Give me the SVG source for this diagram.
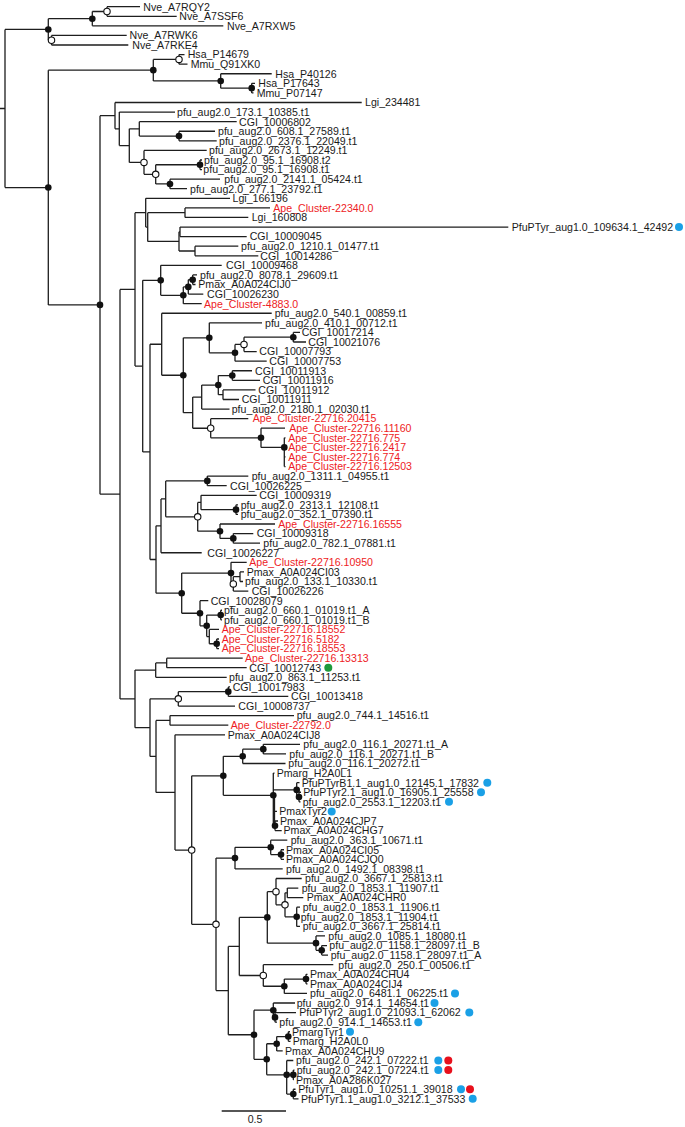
<svg xmlns="http://www.w3.org/2000/svg" width="685" height="1127" viewBox="0 0 685 1127">
<style>
.b{fill:none;stroke:#1e1e1e;stroke-width:1.3}
.f{fill:#111}
.o{fill:#fff;stroke:#111;stroke-width:1.1}
text{font-family:"Liberation Sans",Arial,sans-serif;font-size:10.6px;fill:#1a1a1a}
text.r{fill:#ee1c25}
.bl{fill:#1aa0e6}
.rd{fill:#e8101c}
.gr{fill:#1f9a3c}
</style>
<rect width="685" height="1127" fill="#fff"/>
<g id="connectors" class="b">
<path d="M0 108.5H5 M5 29.45V187.54 M5 29.45H48.3 M5 187.54H48.3"/>
<path d="M48.3 18.68V40.23 M48.3 18.68H92.3 M48.3 40.23H51.5"/>
<path d="M92.3 11.49V25.86 M92.3 11.49H107 M92.3 25.86H223.3"/>
<path d="M107 6.7V16.28 M107 6.7H140 M107 16.28H176.7"/>
<path d="M51.5 35.44V45.02 M51.5 35.44H126.7 M51.5 45.02H128.3"/>
<path d="M48.3 70.17V304.9 M48.3 70.17H153.3 M48.3 304.9H100"/>
<path d="M153.3 59.39V80.95 M153.3 59.39H179 M153.3 80.95H220.7"/>
<path d="M179 54.6V64.18 M179 54.6H184.5 M179 64.18H187.5"/>
<path d="M220.7 73.76V88.13 M220.7 73.76H271.7 M220.7 88.13H251.7"/>
<path d="M251.7 83.34V92.92 M251.7 83.34H255 M251.7 92.92H253.5"/>
<path d="M100 115.67V494.13 M100 115.67H115 M100 494.13H120"/>
<path d="M115 102.5V128.84 M115 102.5H361.7 M115 128.84H119.3"/>
<path d="M119.3 112.08V145.6 M119.3 112.08H175 M119.3 145.6H129.3"/>
<path d="M129.3 128.85V162.38 M129.3 128.85H139.3 M129.3 162.38H144"/>
<path d="M139.3 121.66V136.03 M139.3 121.66H236.7 M139.3 136.03H179"/>
<path d="M179 131.24V140.82 M179 131.24H215 M179 140.82H216.7"/>
<path d="M144 150.4V174.35 M144 150.4H206.7 M144 174.35H155.7"/>
<path d="M155.7 164.77V183.93 M155.7 164.77H200 M155.7 183.93H170"/>
<path d="M200 159.98V169.56 M200 159.98H202 M200 169.56H202"/>
<path d="M170 179.14V188.72 M170 179.14H220 M170 188.72H187"/>
<path d="M120 289.39V698.88 M120 289.39H135 M120 698.88H135"/>
<path d="M135 212.67V366.1 M135 212.67H145.7 M135 366.1H142.7"/>
<path d="M145.7 198.3V227.04 M145.7 198.3H230 M145.7 227.04H147.7"/>
<path d="M147.7 212.67V241.41 M147.7 212.67H185 M147.7 241.41H179"/>
<path d="M185 207.88V217.46 M185 207.88H270 M185 217.46H248.3"/>
<path d="M179 231.83V250.99 M179 231.83H180 M179 250.99H195"/>
<path d="M180 227.04V236.62 M180 227.04H508.3 M180 236.62H246.7"/>
<path d="M195 246.2V255.78 M195 246.2H238.3 M195 255.78H258.3"/>
<path d="M142.7 280.33V451.88 M142.7 280.33H160.7 M142.7 451.88H150"/>
<path d="M160.7 265.36V295.3 M160.7 265.36H221.7 M160.7 295.3H183.3"/>
<path d="M183.3 286.9V303.68 M183.3 286.9H188.3 M183.3 303.68H201.7"/>
<path d="M188.3 279.73V294.1 M188.3 279.73H192.7 M188.3 294.1H203.3"/>
<path d="M192.7 274.94V284.52 M192.7 274.94H197 M192.7 284.52H195.5"/>
<path d="M150 344.25V559.5 M150 344.25H161.7 M150 559.5H156"/>
<path d="M161.7 313.26V375.24 M161.7 313.26H271.7 M161.7 375.24H183.3"/>
<path d="M183.3 337.81V412.66 M183.3 337.81H209.3 M183.3 412.66H192.7"/>
<path d="M209.3 322.84V352.78 M209.3 322.84H262 M209.3 352.78H235"/>
<path d="M235 344.4V361.16 M235 344.4H244 M235 361.16H266.7"/>
<path d="M244 337.21V351.58 M244 337.21H293.3 M244 351.58H256.7"/>
<path d="M293.3 332.42V342 M293.3 332.42H300 M293.3 342H306"/>
<path d="M192.7 397.09V428.23 M192.7 397.09H201.7 M192.7 428.23H210.7"/>
<path d="M201.7 385.11V409.06 M201.7 385.11H218.3 M201.7 409.06H229.5"/>
<path d="M218.3 375.53V394.69 M218.3 375.53H232.3 M218.3 394.69H223"/>
<path d="M232.3 370.74V380.32 M232.3 370.74H252 M232.3 380.32H260"/>
<path d="M223 389.9V399.48 M223 389.9H255.5 M223 399.48H239"/>
<path d="M210.7 418.64V437.81 M210.7 418.64H248.3 M210.7 437.81H261"/>
<path d="M261 428.22V447.4 M261 428.22H285 M261 447.4H284.3"/>
<path d="M284.3 437.8V466.54 M284.3 437.8H285.5 M284.3 447.38H285.5 M284.3 456.96H285.5 M284.3 466.54H285.5"/>
<path d="M156 525.82V593.18 M156 525.82H161 M156 593.18H181.7"/>
<path d="M161 498.88V552.76 M161 498.88H165.7 M161 552.76H201.7"/>
<path d="M165.7 480.91V516.84 M165.7 480.91H207.3 M165.7 516.84H197.7"/>
<path d="M207.3 476.12V485.7 M207.3 476.12H248.3 M207.3 485.7H226.7"/>
<path d="M197.7 502.47V531.2 M197.7 502.47H201 M197.7 531.2H220"/>
<path d="M201 495.28V509.65 M201 495.28H256.7 M201 509.65H236"/>
<path d="M236 504.86V514.44 M236 504.86H238 M236 514.44H238"/>
<path d="M220 524.02V538.39 M220 524.02H275 M220 538.39H233.3"/>
<path d="M233.3 533.6V543.18 M233.3 533.6H253.3 M233.3 543.18H260"/>
<path d="M181.7 573.12V613.24 M181.7 573.12H231 M181.7 613.24H200"/>
<path d="M231 562.34V583.9 M231 562.34H246.7 M231 583.9H233.3"/>
<path d="M233.3 576.71V591.08 M233.3 576.71H240 M233.3 591.08H248.3"/>
<path d="M240 571.92V581.5 M240 571.92H244 M240 581.5H243"/>
<path d="M200 600.66V625.81 M200 600.66H208.3 M200 625.81H206.7"/>
<path d="M206.7 615.03V636.59 M206.7 615.03H220.7 M206.7 636.59H209.3"/>
<path d="M220.7 610.24V619.82 M220.7 610.24H222 M220.7 619.82H222"/>
<path d="M209.3 629.4V643.77 M209.3 629.4H219 M209.3 643.77H216.7"/>
<path d="M216.7 638.98V648.56 M216.7 638.98H219 M216.7 648.56H219"/>
<path d="M135 670.11V727.64 M135 670.11H155.7 M135 727.64H150"/>
<path d="M155.7 662.93V677.3 M155.7 662.93H166.7 M155.7 677.3H226.7"/>
<path d="M166.7 658.14V667.72 M166.7 658.14H242.7 M166.7 667.72H246.7"/>
<path d="M150 698.86V756.42 M150 698.86H178.3 M150 756.42H156"/>
<path d="M178.3 691.67V706.04 M178.3 691.67H228.3 M178.3 706.04H235"/>
<path d="M228.3 686.88V696.46 M228.3 686.88H230 M228.3 696.46H288.3"/>
<path d="M156 720.41V792.43 M156 720.41H170 M156 792.43H175"/>
<path d="M170 715.62V725.2 M170 715.62H294 M170 725.2H228.3"/>
<path d="M175 734.78V850.08 M175 734.78H225 M175 850.08H191.7"/>
<path d="M191.7 775.8V924.35 M191.7 775.8H223.3 M191.7 924.35H216"/>
<path d="M223.3 756.3V795.3 M223.3 756.3H242.7 M223.3 795.3H273.3"/>
<path d="M242.7 749.15V763.52 M242.7 749.15H263.3 M242.7 763.52H285.5"/>
<path d="M263.3 744.36V753.94 M263.3 744.36H300 M263.3 753.94H286"/>
<path d="M273.3 773.1V825.8 M273.3 773.1H274.5 M273.3 789.9H296.7 M273.3 811.42H277 M273.3 825.8H275 M274.5 796V826"/>
<path d="M296.7 782.68V797.05 M296.7 782.68H299.5 M296.7 797.05H299"/>
<path d="M299 792.26V801.84 M299 792.26H301 M299 801.84H300.5"/>
<path d="M275 821V830.58 M275 821H278 M275 830.58H281.7"/>
<path d="M216 858.1V990.6 M216 858.1H235 M216 990.6H228.3"/>
<path d="M235 847.3V868.9 M235 847.3H270.7 M235 868.9H282.7"/>
<path d="M270.7 840.16V854.53 M270.7 840.16H287.3 M270.7 854.53H281"/>
<path d="M281 849.74V859.32 M281 849.74H284 M281 859.32H284"/>
<path d="M228.3 946.44V1034.75 M228.3 946.44H239.3 M228.3 1034.75H254"/>
<path d="M239.3 917.4V975.48 M239.3 917.4H267.3 M239.3 975.48H263.3"/>
<path d="M267.3 891.66V943.15 M267.3 891.66H276 M267.3 943.15H316"/>
<path d="M276 878.48V904.83 M276 878.48H301.7 M276 904.83H285"/>
<path d="M285 892.85V916.8 M285 892.85H287.3 M285 916.8H296.7"/>
<path d="M287.3 888.06V897.64 M287.3 888.06H298.3 M287.3 897.64H303.3"/>
<path d="M296.7 907.22V926.38 M296.7 907.22H300 M296.7 916.8H298.5 M296.7 926.38H300"/>
<path d="M316 935.96V950.33 M316 935.96H325 M316 950.33H321.7"/>
<path d="M321.7 945.54V955.12 M321.7 945.54H327 M321.7 955.12H328"/>
<path d="M263.3 964.7V986.26 M263.3 964.7H333.3 M263.3 986.26H284.3"/>
<path d="M284.3 979.07V993.44 M284.3 979.07H306 M284.3 993.44H307"/>
<path d="M306 974.28V983.86 M306 974.28H307.5 M306 983.86H307.5"/>
<path d="M254 1010.2V1059.3 M254 1010.2H273.3 M254 1059.3H266.7"/>
<path d="M273.3 1003.02V1017.39 M273.3 1003.02H295 M273.3 1017.39H275"/>
<path d="M275 1012.6V1022.18 M275 1012.6H296 M275 1022.18H277"/>
<path d="M266.7 1043.74V1074.87 M266.7 1043.74H276.7 M266.7 1074.87H286.7"/>
<path d="M276.7 1036.55V1050.92 M276.7 1036.55H288.3 M276.7 1050.92H282.7"/>
<path d="M288.3 1031.76V1041.34 M288.3 1031.76H290 M288.3 1041.34H290.5"/>
<path d="M286.7 1060.5V1094.03 M286.7 1060.5H293.3 M286.7 1074.87H293.3 M286.7 1094.03H293.3"/>
<path d="M293.3 1070.08V1079.66 M293.3 1070.08H294.5 M293.3 1079.66H294"/>
<path d="M293.3 1089.24V1098.82 M293.3 1089.24H295.5 M293.3 1098.82H298.5"/>
<path d="M221.7 1111H286"/>
</g>
<g id="internal-nodes">
<g id="nA"><circle class="f" cx="48.3" cy="29.45" r="3.3"/></g>
<g id="nA1"><circle class="f" cx="92.3" cy="18.68" r="3.3"/></g>
<g id="nA1a"><circle class="o" cx="107" cy="11.49" r="3.2"/></g>
<g id="nA2"><circle class="o" cx="51.5" cy="40.23" r="3.2"/></g>
<g id="nB"><circle class="f" cx="48.3" cy="187.54" r="3.3"/></g>
<g id="nC"><circle class="f" cx="153.3" cy="70.17" r="3.3"/></g>
<g id="nD"><circle class="o" cx="179" cy="59.39" r="3.2"/></g>
<g id="nE"><circle class="f" cx="220.7" cy="80.95" r="3.3"/></g>
<g id="nF"><circle class="f" cx="251.7" cy="88.13" r="3.3"/></g>
<g id="nG"><circle class="f" cx="100" cy="304.9" r="3.3"/></g>
<g id="nJ1"><circle class="f" cx="179" cy="136.03" r="3.3"/></g>
<g id="nK"><circle class="o" cx="144" cy="162.38" r="3.2"/></g>
<g id="nL"><circle class="o" cx="155.7" cy="174.35" r="3.2"/></g>
<g id="nL1"><circle class="f" cx="200" cy="164.77" r="3.3"/></g>
<g id="nM"><circle class="f" cx="170" cy="183.93" r="3.3"/></g>
<g id="nX"><circle class="f" cx="160.7" cy="280.33" r="3.3"/></g>
<g id="nY"><circle class="f" cx="183.3" cy="295.3" r="3.3"/></g>
<g id="nZ"><circle class="f" cx="188.3" cy="286.9" r="3.3"/></g>
<g id="nZZ"><circle class="f" cx="192.7" cy="279.73" r="3.3"/></g>
<g id="nCC"><circle class="f" cx="183.3" cy="375.24" r="3.3"/></g>
<g id="nSS"><circle class="f" cx="209.3" cy="337.81" r="3.3"/></g>
<g id="nTT"><circle class="f" cx="235" cy="352.78" r="3.3"/></g>
<g id="nUU"><circle class="o" cx="244" cy="344.4" r="3.2"/></g>
<g id="nVV"><circle class="f" cx="293.3" cy="337.21" r="3.3"/></g>
<g id="nZZZ"><circle class="f" cx="218.3" cy="385.11" r="3.3"/></g>
<g id="nXX"><circle class="f" cx="232.3" cy="375.53" r="3.3"/></g>
<g id="nAC"><circle class="o" cx="210.7" cy="428.23" r="3.2"/></g>
<g id="nAD"><circle class="f" cx="261" cy="437.81" r="3.3"/></g>
<g id="nAE"><circle class="f" cx="284.3" cy="447.4" r="3.3"/></g>
<g id="nEF"><circle class="f" cx="207.3" cy="480.91" r="3.3"/></g>
<g id="nGG"><circle class="o" cx="197.7" cy="516.84" r="3.2"/></g>
<g id="nHH1"><circle class="f" cx="236" cy="509.65" r="3.3"/></g>
<g id="nII"><circle class="f" cx="220" cy="531.2" r="3.3"/></g>
<g id="nJJ"><circle class="f" cx="233.3" cy="538.39" r="3.3"/></g>
<g id="nFF"><circle class="f" cx="181.7" cy="593.18" r="3.3"/></g>
<g id="nKK"><circle class="f" cx="231" cy="573.12" r="3.3"/></g>
<g id="nNN"><circle class="o" cx="233.3" cy="583.9" r="3.2"/></g>
<g id="nLL"><circle class="f" cx="200" cy="613.24" r="3.3"/></g>
<g id="nOO"><circle class="f" cx="206.7" cy="625.81" r="3.3"/></g>
<g id="nPP"><circle class="f" cx="220.7" cy="615.03" r="3.3"/></g>
<g id="nQQ"><circle class="f" cx="216.7" cy="643.77" r="3.3"/></g>
<g id="nBD"><circle class="o" cx="178.3" cy="698.86" r="3.2"/></g>
<g id="nBD1"><circle class="f" cx="228.3" cy="691.67" r="3.3"/></g>
<g id="nBH"><circle class="o" cx="191.7" cy="850.08" r="3.2"/></g>
<g id="nBI"><circle class="f" cx="223.3" cy="775.8" r="3.3"/></g>
<g id="nBJ"><circle class="f" cx="242.7" cy="756.3" r="3.3"/></g>
<g id="nBK"><circle class="f" cx="263.3" cy="749.15" r="3.3"/></g>
<g id="nBL"><circle class="f" cx="273.3" cy="795.3" r="3.3"/></g>
<g id="nBM"><circle class="f" cx="296.7" cy="789.9" r="3.3"/></g>
<g id="nBN"><circle class="f" cx="299" cy="797.05" r="3.3"/></g>
<g id="nBO"><circle class="f" cx="275" cy="825.8" r="3.3"/></g>
<g id="nBP"><circle class="o" cx="216" cy="924.35" r="3.2"/></g>
<g id="nBQ"><circle class="f" cx="235" cy="858.1" r="3.3"/></g>
<g id="nBR"><circle class="f" cx="270.7" cy="847.3" r="3.3"/></g>
<g id="nBS"><circle class="f" cx="281" cy="854.53" r="3.3"/></g>
<g id="nBV"><circle class="f" cx="267.3" cy="917.4" r="3.3"/></g>
<g id="nBW"><circle class="o" cx="276" cy="891.66" r="3.2"/></g>
<g id="nBY"><circle class="o" cx="285" cy="904.83" r="3.2"/></g>
<g id="nCA"><circle class="f" cx="296.7" cy="916.8" r="3.3"/></g>
<g id="nBX"><circle class="f" cx="316" cy="943.15" r="3.3"/></g>
<g id="nCB"><circle class="f" cx="321.7" cy="950.33" r="3.3"/></g>
<g id="nCC2"><circle class="o" cx="263.3" cy="975.48" r="3.2"/></g>
<g id="nCD"><circle class="f" cx="284.3" cy="986.26" r="3.3"/></g>
<g id="nCE"><circle class="f" cx="306" cy="979.07" r="3.3"/></g>
<g id="nCF"><circle class="f" cx="254" cy="1034.75" r="3.3"/></g>
<g id="nCG"><circle class="f" cx="273.3" cy="1010.2" r="3.3"/></g>
<g id="nCI"><circle class="f" cx="275" cy="1017.39" r="3.3"/></g>
<g id="nCH"><circle class="f" cx="266.7" cy="1059.3" r="3.3"/></g>
<g id="nCJ"><circle class="f" cx="276.7" cy="1043.74" r="3.3"/></g>
<g id="nCL"><circle class="f" cx="288.3" cy="1036.55" r="3.3"/></g>
<g id="nCK"><circle class="f" cx="286.7" cy="1074.87" r="3.3"/></g>
<g id="nCM"><circle class="f" cx="293.3" cy="1074.87" r="3.3"/></g>
<g id="nCN"><circle class="f" cx="293.3" cy="1094.03" r="3.3"/></g>
</g>
<g id="leaves">
<g id="l1"><text x="143.3" y="10.5">Nve_A7RQY2</text></g>
<g id="l2"><text x="179.3" y="20.1">Nve_A7SSF6</text></g>
<g id="l3"><text x="227" y="29.7">Nve_A7RXW5</text></g>
<g id="l4"><text x="129.5" y="39.2">Nve_A7RWK6</text></g>
<g id="l5"><text x="132.3" y="48.8">Nve_A7RKE4</text></g>
<g id="l6"><text x="187.7" y="58.4">Hsa_P14679</text></g>
<g id="l7"><text x="190.7" y="68">Mmu_Q91XK0</text></g>
<g id="l8"><text x="275.3" y="77.6">Hsa_P40126</text></g>
<g id="l9"><text x="258.3" y="87.1">Hsa_P17643</text></g>
<g id="l10"><text x="256.7" y="96.7">Mmu_P07147</text></g>
<g id="l11"><text x="365" y="106.3">Lgi_234481</text></g>
<g id="l12"><text x="177" y="115.9">pfu_aug2.0_173.1_10385.t1</text></g>
<g id="l13"><text x="239" y="125.5">CGI_10006802</text></g>
<g id="l14"><text x="218" y="135">pfu_aug2.0_608.1_27589.t1</text></g>
<g id="l15"><text x="219" y="144.6">pfu_aug2.0_2376.1_22049.t1</text></g>
<g id="l16"><text x="209" y="154.2">pfu_aug2.0_2673.1_12249.t1</text></g>
<g id="l17"><text x="204" y="163.8">pfu_aug2.0_95.1_16908.t2</text></g>
<g id="l18"><text x="203.3" y="173.4">pfu_aug2.0_95.1_16908.t1</text></g>
<g id="l19"><text x="224.3" y="182.9">pfu_aug2.0_2141.1_05424.t1</text></g>
<g id="l20"><text x="190" y="192.5">pfu_aug2.0_277.1_23792.t1</text></g>
<g id="l21"><text x="232.5" y="202.1">Lgi_166196</text></g>
<g id="l22"><text class="r" x="273.3" y="211.7">Ape_Cluster-22340.0</text></g>
<g id="l23"><text x="251.7" y="221.3">Lgi_160808</text></g>
<g id="l24"><text x="511.7" y="230.8">PfuPTyr_aug1.0_109634.1_42492</text><circle class="bl" cx="679" cy="227" r="4"/></g>
<g id="l25"><text x="249.7" y="240.4">CGI_10009045</text></g>
<g id="l26"><text x="241" y="250">pfu_aug2.0_1210.1_01477.t1</text></g>
<g id="l27"><text x="260.3" y="259.6">CGI_10014286</text></g>
<g id="l28"><text x="226" y="269.2">CGI_10009468</text></g>
<g id="l29"><text x="200" y="278.7">pfu_aug2.0_8078.1_29609.t1</text></g>
<g id="l30"><text x="198.3" y="288.3">Pmax_A0A024CIJ0</text></g>
<g id="l31"><text x="207" y="297.9">CGI_10026230</text></g>
<g id="l32"><text class="r" x="204" y="307.5">Ape_Cluster-4883.0</text></g>
<g id="l33"><text x="274.7" y="317.1">pfu_aug2.0_540.1_00859.t1</text></g>
<g id="l34"><text x="265" y="326.6">pfu_aug2.0_410.1_00712.t1</text></g>
<g id="l35"><text x="301.7" y="336.2">CGI_10017214</text></g>
<g id="l36"><text x="308.3" y="345.8">CGI_10021076</text></g>
<g id="l37"><text x="259.3" y="355.4">CGI_10007793</text></g>
<g id="l38"><text x="269.3" y="365">CGI_10007753</text></g>
<g id="l39"><text x="255" y="374.5">CGI_10011913</text></g>
<g id="l40"><text x="262.7" y="384.1">CGI_10011916</text></g>
<g id="l41"><text x="258.3" y="393.7">CGI_10011912</text></g>
<g id="l42"><text x="241.7" y="403.3">CGI_10011911</text></g>
<g id="l43"><text x="231.7" y="412.9">pfu_aug2.0_2180.1_02030.t1</text></g>
<g id="l44"><text class="r" x="252.7" y="422.4">Ape_Cluster-22716.20415</text></g>
<g id="l45"><text class="r" x="289.3" y="432">Ape_Cluster-22716.11160</text></g>
<g id="l46"><text class="r" x="288.3" y="441.6">Ape_Cluster-22716.775</text></g>
<g id="l47"><text class="r" x="288.3" y="451.2">Ape_Cluster-22716.2417</text></g>
<g id="l48"><text class="r" x="288.3" y="460.8">Ape_Cluster-22716.774</text></g>
<g id="l49"><text class="r" x="288.3" y="470.3">Ape_Cluster-22716.12503</text></g>
<g id="l50"><text x="251.7" y="479.9">pfu_aug2.0_1311.1_04955.t1</text></g>
<g id="l51"><text x="230" y="489.5">CGI_10026225</text></g>
<g id="l52"><text x="259.3" y="499.1">CGI_10009319</text></g>
<g id="l53"><text x="240.7" y="508.7">pfu_aug2.0_2313.1_12108.t1</text></g>
<g id="l54"><text x="240.7" y="518.2">pfu_aug2.0_352.1_07390.t1</text></g>
<g id="l55"><text class="r" x="278.3" y="527.8">Ape_Cluster-22716.16555</text></g>
<g id="l56"><text x="256.7" y="537.4">CGI_10009318</text></g>
<g id="l57"><text x="263.3" y="547">pfu_aug2.0_782.1_07881.t1</text></g>
<g id="l58"><text x="207.3" y="556.6">CGI_10026227</text></g>
<g id="l59"><text class="r" x="249.3" y="566.1">Ape_Cluster-22716.10950</text></g>
<g id="l60"><text x="246.7" y="575.7">Pmax_A0A024CI03</text></g>
<g id="l61"><text x="245" y="585.3">pfu_aug2.0_133.1_10330.t1</text></g>
<g id="l62"><text x="251.7" y="594.9">CGI_10026226</text></g>
<g id="l63"><text x="210.7" y="604.5">CGI_10028079</text></g>
<g id="l64"><text x="224" y="614">pfu_aug2.0_660.1_01019.t1_A</text></g>
<g id="l65"><text x="224" y="623.6">pfu_aug2.0_660.1_01019.t1_B</text></g>
<g id="l66"><text class="r" x="221.7" y="633.2">Ape_Cluster-22716.18552</text></g>
<g id="l67"><text class="r" x="221.7" y="642.8">Ape_Cluster-22716.5182</text></g>
<g id="l68"><text class="r" x="221.7" y="652.4">Ape_Cluster-22716.18553</text></g>
<g id="l69"><text class="r" x="245" y="661.9">Ape_Cluster-22716.13313</text></g>
<g id="l70"><text x="249.3" y="671.5">CGI_10012743</text><circle class="gr" cx="328.3" cy="667.7" r="4"/></g>
<g id="l71"><text x="229" y="681.1">pfu_aug2.0_863.1_11253.t1</text></g>
<g id="l72"><text x="232.7" y="690.7">CGI_10017983</text></g>
<g id="l73"><text x="291" y="700.3">CGI_10013418</text></g>
<g id="l74"><text x="238.3" y="709.8">CGI_10008737</text></g>
<g id="l75"><text x="296.7" y="719.4">pfu_aug2.0_744.1_14516.t1</text></g>
<g id="l76"><text class="r" x="230.7" y="729">Ape_Cluster-22792.0</text></g>
<g id="l77"><text x="227.7" y="738.6">Pmax_A0A024CIJ8</text></g>
<g id="l78"><text x="303.3" y="748.2">pfu_aug2.0_116.1_20271.t1_A</text></g>
<g id="l79"><text x="289.3" y="757.7">pfu_aug2.0_116.1_20271.t1_B</text></g>
<g id="l80"><text x="288.3" y="767.3">pfu_aug2.0_116.1_20272.t1</text></g>
<g id="l81"><text x="276.7" y="776.9">Pmarg_H2A0L1</text></g>
<g id="l82"><text x="301.7" y="786.5">PfuPTyrB1.1_aug1.0_12145.1_17832</text><circle class="bl" cx="487.3" cy="782.7" r="4"/></g>
<g id="l83"><text x="303.3" y="796.1">PfuPTyr2.1_aug1.0_16905.1_25558</text><circle class="bl" cx="481" cy="792.3" r="4"/></g>
<g id="l84"><text x="302.7" y="805.6">pfu_aug2.0_2553.1_12203.t1</text><circle class="bl" cx="449" cy="801.8" r="4"/></g>
<g id="l85"><text x="279.3" y="815.2">PmaxTyr2</text><circle class="bl" cx="331.7" cy="811.4" r="4"/></g>
<g id="l86"><text x="280" y="824.8">Pmax_A0A024CJP7</text></g>
<g id="l87"><text x="283.5" y="834.4">Pmax_A0A024CHG7</text></g>
<g id="l88"><text x="290.7" y="844">pfu_aug2.0_363.1_10671.t1</text></g>
<g id="l89"><text x="286" y="853.5">Pmax_A0A024CI05</text></g>
<g id="l90"><text x="286" y="863.1">Pmax_A0A024CJQ0</text></g>
<g id="l91"><text x="286" y="872.7">pfu_aug2.0_1492.1_08398.t1</text></g>
<g id="l92"><text x="305" y="882.3">pfu_aug2.0_3667.1_25813.t1</text></g>
<g id="l93"><text x="301.7" y="891.9">pfu_aug2.0_1853.1_11907.t1</text></g>
<g id="l94"><text x="306.7" y="901.4">Pmax_A0A024CHR0</text></g>
<g id="l95"><text x="302.7" y="911">pfu_aug2.0_1853.1_11906.t1</text></g>
<g id="l96"><text x="300.7" y="920.6">pfu_aug2.0_1853.1_11904.t1</text></g>
<g id="l97"><text x="302.7" y="930.2">pfu_aug2.0_3667.1_25814.t1</text></g>
<g id="l98"><text x="328.3" y="939.8">pfu_aug2.0_1085.1_18080.t1</text></g>
<g id="l99"><text x="329.3" y="949.3">pfu_aug2.0_1158.1_28097.t1_B</text></g>
<g id="l100"><text x="330.7" y="958.9">pfu_aug2.0_1158.1_28097.t1_A</text></g>
<g id="l101"><text x="338.3" y="968.5">pfu_aug2.0_250.1_00506.t1</text></g>
<g id="l102"><text x="310" y="978.1">Pmax_A0A024CHU4</text></g>
<g id="l103"><text x="310" y="987.7">Pmax_A0A024CIJ4</text></g>
<g id="l104"><text x="310" y="997.2">pfu_aug2.0_6481.1_06225.t1</text><circle class="bl" cx="455" cy="993.4" r="4"/></g>
<g id="l105"><text x="296.7" y="1006.8">pfu_aug2.0_914.1_14654.t1</text><circle class="bl" cx="434.5" cy="1003" r="4"/></g>
<g id="l106"><text x="299.3" y="1016.4">PfuPTyr2_aug1.0_21093.1_62062</text><circle class="bl" cx="469.3" cy="1012.6" r="4"/></g>
<g id="l107"><text x="279.3" y="1026">pfu_aug2.0_914.1_14653.t1</text><circle class="bl" cx="418.3" cy="1022.2" r="4"/></g>
<g id="l108"><text x="292" y="1035.6">PmargTyr1</text><circle class="bl" cx="350" cy="1031.8" r="4"/></g>
<g id="l109"><text x="292.7" y="1045.1">Pmarg_H2A0L0</text></g>
<g id="l110"><text x="285" y="1054.7">Pmax_A0A024CHU9</text></g>
<g id="l111"><text x="296" y="1064.3">pfu_aug2.0_242.1_07222.t1</text><circle class="bl" cx="438.3" cy="1060.5" r="4"/><circle class="rd" cx="448.3" cy="1060.5" r="4"/></g>
<g id="l112"><text x="296.7" y="1073.9">pfu_aug2.0_242.1_07224.t1</text><circle class="bl" cx="438.3" cy="1070.1" r="4"/><circle class="rd" cx="448.3" cy="1070.1" r="4"/></g>
<g id="l113"><text x="296" y="1083.5">Pmax_A0A286K027</text></g>
<g id="l114"><text x="298.3" y="1093">PfuTyr1_aug1.0_10251.1_39018</text><circle class="bl" cx="461" cy="1089.2" r="4"/><circle class="rd" cx="470" cy="1089.2" r="4"/></g>
<g id="l115"><text x="301" y="1102.6">PfuPTyr1.1_aug1.0_3212.1_37533</text><circle class="bl" cx="472.7" cy="1098.8" r="4"/></g>
</g>
<g id="scale"><text x="255" y="1123" text-anchor="middle" font-size="11">0.5</text></g>
</svg>
